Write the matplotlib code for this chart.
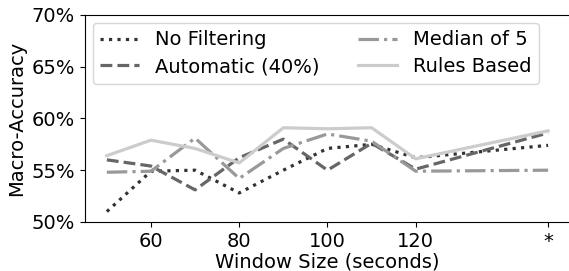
import matplotlib
matplotlib.use('Agg')
import matplotlib.pyplot as plt
import numpy as np

# data
window = [50, 60, 70, 80, 90, 100, 110, 120, 150]
no_filter = [51.0, 54.9, 55.0, 52.8, 55.0, 57.1, 57.5, 56.2, 57.4]
automatic = [56.0, 55.4, 53.1, 56.2, 58.0, 55.0, 57.6, 55.1, 58.6]
median5 = [54.8, 54.9, 58.1, 54.2, 57.1, 58.5, 57.8, 54.9, 55.0]
rules = [56.4, 57.9, 57.1, 55.7, 59.1, 59.0, 59.1, 56.1, 58.8]

xticks = [60, 80, 100, 120, 150]
xticklabels = ['60', '80', '100', '120', '*']
yticks = [50, 55, 60, 65, 70]

plt.rcParams['font.size'] = 14

fig = plt.figure(figsize=(5.69, 2.71), dpi=100)
ax = fig.add_axes([0.149, 0.181, 0.853, 0.764])

ax.plot(window, no_filter, linestyle=':', color='#333333', linewidth=2.3, label='No Filtering')
ax.plot(window, automatic, linestyle='--', color='#666666', linewidth=2.3, label='Automatic (40%)')
ax.plot(window, median5, linestyle='-.', color='#999999', linewidth=2.3, label='Median of 5')
ax.plot(window, rules, linestyle='-', color='#cccccc', linewidth=2.3, label='Rules Based')

ax.set_xlim(45, 155)
ax.set_ylim(50, 70)
ax.set_xticks(xticks)
ax.set_xticklabels(xticklabels)
ax.set_yticks(yticks)
ax.set_yticklabels([f'{v}%' for v in yticks])
ax.spines['right'].set_visible(False)
ax.set_xlabel('Window Size (seconds)', labelpad=1)
ax.set_ylabel('Macro-Accuracy')
ax.legend(ncol=2, loc='upper left', fontsize=14, handlelength=2, columnspacing=2,
          borderaxespad=0.4, labelspacing=0.4)

fig.savefig('out.png', dpi=100)
